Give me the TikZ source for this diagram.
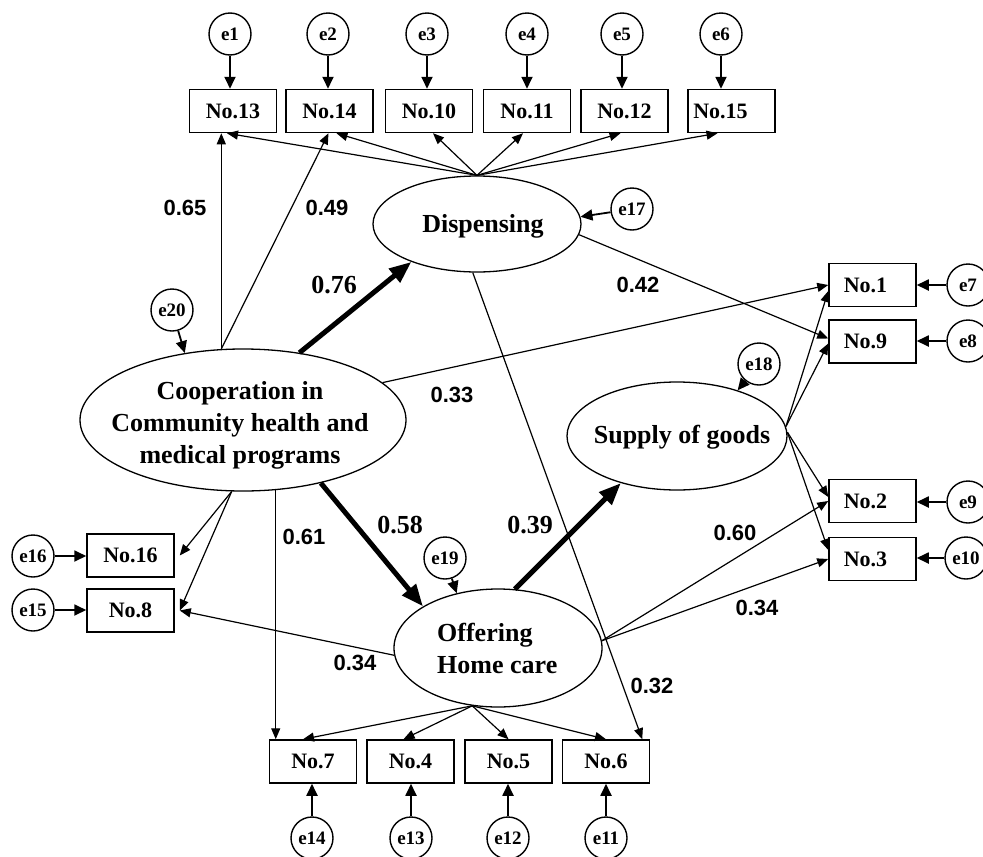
\documentclass[tikz,border=0pt]{standalone}
\usepackage{fontspec}
\setmainfont{Liberation Serif}
\newfontfamily\arialf{Liberation Sans}
\usetikzlibrary{arrows.meta,shapes.geometric,calc}
\begin{document}
\begin{tikzpicture}[x=1pt,y=-1pt,
  box/.style={draw, line width=1.5pt, minimum width=87pt, minimum height=43pt, inner sep=0pt, font=\fontsize{22}{26}\selectfont\bfseries},
  err/.style={draw, circle, line width=1.4pt, minimum size=42pt, inner sep=0pt, font=\fontsize{19}{22}\selectfont\bfseries},
  lat/.style={draw, ellipse, line width=1.3pt, inner sep=0pt},
  lattext/.style={font=\fontsize{26}{32}\selectfont\bfseries, align=center, inner sep=0pt},
  arr/.style={line width=1.2pt, -{Triangle[length=11pt,width=9pt]}},
  earr/.style={line width=1.8pt, -{Triangle[length=12pt,width=11pt]}},
  bigarr/.style={line width=5pt, -{Triangle[length=22pt,width=17pt]}},
  sanslab/.style={font=\arialf\fontsize{22}{26}\selectfont\bfseries, inner sep=0pt},
  seriflab/.style={font=\fontsize{26}{30}\selectfont\bfseries, inner sep=0pt}]
\useasboundingbox (0,0) rectangle (983,857);
\clip (0,0) rectangle (983,857);

% top observed
\node[box] (n13) at (233,111) {No.13};
\node[box] (n14) at (329.5,111) {No.14};
\node[box] (n10) at (429,111) {No.10};
\node[box] (n11) at (527,111) {No.11};
\node[box] (n12) at (624.5,111) {No.12};
\node[box] (n15) at (731.5,111) {\hspace*{-22pt}No.15};
\node[err] (e1) at (230,34) {e1};
\node[err] (e2) at (328,34) {e2};
\node[err] (e3) at (427,34) {e3};
\node[err] (e4) at (527,34) {e4};
\node[err] (e5) at (622,34) {e5};
\node[err] (e6) at (721,34) {e6};
\draw[earr] (e1) -- (e1 |- n13.north);
\draw[earr] (e2) -- (e2 |- n14.north);
\draw[earr] (e3) -- (e3 |- n10.north);
\draw[earr] (e4) -- (e4 |- n11.north);
\draw[earr] (e5) -- (e5 |- n12.north);
\draw[earr] (e6) -- (e6 |- n15.north);

% right observed
\node[box] (n1) at (872.5,285) {\hspace*{-14pt}No.1};
\node[box] (n9) at (872.5,341.5) {\hspace*{-14pt}No.9};
\node[box] (n2) at (872.5,501) {\hspace*{-14pt}No.2};
\node[box] (n3) at (872.5,559) {\hspace*{-14pt}No.3};
\node[err] (e7) at (968,285) {e7};
\node[err] (e8) at (968,341) {e8};
\node[err] (e9) at (968,502) {e9};
\node[err] (e10) at (966,558) {e10};
\draw[earr] (e7) -- (e7 -| n1.east);
\draw[earr] (e8) -- (e8 -| n9.east);
\draw[earr] (e9) -- (e9 -| n2.east);
\draw[earr] (e10) -- (e10 -| n3.east);

% left observed
\node[box] (n16) at (130.5,555.5) {No.16};
\node[box] (n8) at (130.5,610.5) {No.8};
\node[err] (e16) at (33,556) {e16};
\node[err] (e15) at (33,610) {e15};
\draw[earr] (e16) -- (e16 -| n16.west);
\draw[earr] (e15) -- (e15 -| n8.west);

% bottom observed
\node[box] (n7) at (313,761.5) {No.7};
\node[box] (n4) at (410.5,761.5) {No.4};
\node[box] (n5) at (508.5,761.5) {No.5};
\node[box] (n6) at (606,761.5) {No.6};
\node[err] (e14) at (312,838) {e14};
\node[err] (e13) at (411,838) {e13};
\node[err] (e12) at (508,838) {e12};
\node[err] (e11) at (606,838) {e11};
\draw[earr] (e14) -- (e14 |- n7.south);
\draw[earr] (e13) -- (e13 |- n4.south);
\draw[earr] (e12) -- (e12 |- n5.south);
\draw[earr] (e11) -- (e11 |- n6.south);

% latent variables
\node[lat, minimum width=326pt, minimum height=142pt] (coop) at (243,420) {};
\node[lattext] (coopt) at (240,425) {Cooperation in\\Community health and\\medical programs};
\node[lat, minimum width=208pt, minimum height=96pt] (disp) at (477,224) {};
\node[lattext, anchor=base] (dispt) at (483,232) {Dispensing};
\node[lat, minimum width=220pt, minimum height=108pt] (supply) at (677,436) {};
\node[lattext, anchor=base] (supplyt) at (682,443) {Supply of goods};
\node[lat, minimum width=208pt, minimum height=118pt] (offer) at (498,648) {};
\node[lattext, align=left, anchor=west] (offert) at (437,648) {Offering\\Home care};

\node[err] (e17) at (632,209) {e17};
\node[err] (e18) at (759,364) {e18};
\node[err] (e19) at (445,558) {e19};
\node[err] (e20) at (172,310) {e20};
\draw[earr] (e17) -- (disp.4);
\draw[earr] (e18) -- (supply.37);
\draw[earr] (e19) -- (offer.127);
\draw[earr] (e20) -- (coop.131);

% Cooperation
\draw[arr] (coop.107) -- (coop.107 |- n13.south);
\draw[arr] (coop.107) -- ($(n14.south)+(-1,0)$);
\draw[bigarr] (coop.50) -- (disp.-150);
\draw[arr] (coop.15) -- (n1.west);
\draw[bigarr] (coop.-39) -- (offer.151);
\draw[arr] (coop.-99) -- ($(n16.east)+(5,0)$);
\draw[arr] (coop.-99) -- ($(n8.east)+(5,0)$);
\draw[arr] (coop.-65) -- (coop.-65 |- n7.north);

% Dispensing
\draw[arr] (disp.north) -- ($(n13.south)+(-6,0)$);
\draw[arr] (disp.north) -- ($(n14.south)+(7,0)$);
\draw[arr] (disp.north) -- ($(n10.south)+(4,0)$);
\draw[arr] (disp.north) -- ($(n11.south)+(-4,0)$);
\draw[arr] (disp.north) -- ($(n12.south)+(-4,0)$);
\draw[arr] (disp.north) -- ($(n15.south)+(-14,0)$);
\draw[arr] (disp.-6) -- ($(n9.west)+(0,-3)$);
\draw[arr] (disp.-95) -- ($(n6.north east)+(-8,0)$);

% Supply
\draw[arr] (supply.5) -- ($(n1.west)+(0,6)$);
\draw[arr] (supply.5) -- ($(n9.west)+(0,2)$);
\draw[arr] (supply.2) -- ($(n2.west)+(0,-4)$);
\draw[arr] (supply.2) -- ($(n3.west)+(0,-9)$);

% Offering
\draw[bigarr] (offer.74) -- (supply.-140);
\draw[arr] (offer.4) -- (n2.west);
\draw[arr] (offer.4) -- (n3.west);
\draw[arr] (offer.184) -- ($(n8.east)+(5,0)$);
\draw[arr] (offer.-114) -- ($(n7.north)+(-10,0)$);
\draw[arr] (offer.-114) -- ($(n4.north)+(-7,0)$);
\draw[arr] (offer.-114) -- (n5.north);
\draw[arr] (offer.-114) -- (n6.north);

% labels
\node[sanslab] (l065) at (185,208) {0.65};
\node[sanslab] (l049) at (327,208) {0.49};
\node[seriflab] (l076) at (334,285) {0.76};
\node[sanslab] (l042) at (638,285) {0.42};
\node[sanslab] (l033) at (452,395) {0.33};
\node[seriflab] (l058) at (400,525) {0.58};
\node[seriflab] (l039) at (530,525) {0.39};
\node[sanslab] (l061) at (304,537) {0.61};
\node[sanslab] (l060) at (735,533) {0.60};
\node[sanslab] (l034a) at (757,608) {0.34};
\node[sanslab] (l034b) at (355,663) {0.34};
\node[sanslab] (l032) at (652,686) {0.32};
\end{tikzpicture}
\end{document}
